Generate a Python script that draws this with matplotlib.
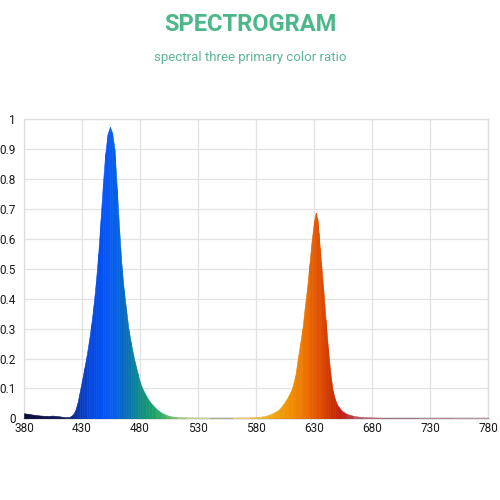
import matplotlib
matplotlib.use("Agg")
import matplotlib.pyplot as plt
import numpy as np
from matplotlib.colors import LinearSegmentedColormap, Normalize

# ---- data ----
wavelength = [380, 385, 390, 395, 400, 405, 410, 415, 419, 422, 424, 426, 428, 430,
              432, 434, 436, 438, 440, 442, 444, 446, 448, 450, 452, 454, 456, 458,
              460, 462, 464, 466, 468, 470, 472, 474, 476, 478, 480, 482, 485, 488,
              490, 494, 498, 502, 506, 512, 520, 540, 560, 575, 585, 590, 595, 600,
              604, 608, 611, 614, 616, 618, 620, 622, 624, 626, 628, 630, 631.5, 633,
              634, 635, 636, 638, 640, 642, 644, 646, 648, 650, 654, 658, 664, 672,
              690, 720, 750, 780]
intensity = [0.017, 0.014, 0.011, 0.009, 0.008, 0.009, 0.007, 0.004, 0.004, 0.012,
             0.025, 0.05, 0.088, 0.128, 0.168, 0.21, 0.26, 0.315, 0.38, 0.46, 0.55,
             0.665, 0.785, 0.885, 0.95, 0.975, 0.955, 0.90, 0.77, 0.635, 0.515, 0.43,
             0.365, 0.30, 0.255, 0.215, 0.18, 0.15, 0.12, 0.10, 0.077, 0.058, 0.048,
             0.032, 0.02, 0.012, 0.007, 0.004, 0.003, 0.002, 0.002, 0.003, 0.006,
             0.01, 0.018, 0.03, 0.05, 0.075, 0.10, 0.145, 0.20, 0.25, 0.30, 0.37,
             0.435, 0.515, 0.595, 0.66, 0.688, 0.665, 0.62, 0.57, 0.525, 0.43, 0.33,
             0.235, 0.155, 0.095, 0.065, 0.045, 0.025, 0.015, 0.008, 0.004, 0.0015,
             0.0015, 0.002, 0.0015]
x_ticks = [380, 430, 480, 530, 580, 630, 680, 730, 780]
y_ticks = [0, 0.1, 0.2, 0.3, 0.4, 0.5, 0.6, 0.7, 0.8, 0.9, 1]
y_tick_labels = ["0", "0.1", "0.2", "0.3", "0.4", "0.5", "0.6", "0.7", "0.8", "0.9", "1"]
title = "SPECTROGRAM"
subtitle = "spectral three primary color ratio"

# ---- style: spectral colour stops ----
stop_nm = [380, 415, 422, 428, 435, 445, 452, 458, 464, 470, 476, 482, 488, 495,
           505, 520, 560, 585, 600, 612, 620, 628, 634, 640, 646, 655, 670, 780]
stop_col = ["#0a0a3a", "#101a60", "#0a2a90", "#0a3ab8", "#0846d8", "#0050f0",
            "#0a58f8", "#0560e8", "#0868c8", "#0a74b0", "#0c8498", "#129080",
            "#1a9c70", "#28a868", "#60b868", "#b8d888", "#e8dca0", "#f0b830",
            "#f0a010", "#f08a00", "#f07800", "#e86200", "#e05000", "#d84000",
            "#c83000", "#c02018", "#b86070", "#b89aa8"]
lo, hi = 380, 780
cmap = LinearSegmentedColormap.from_list(
    "spec", [((n - lo) / (hi - lo), c) for n, c in zip(stop_nm, stop_col)])
norm = Normalize(lo, hi)

plt.rcParams['font.family'] = ['Roboto', 'DejaVu Sans']

fig = plt.figure(figsize=(5, 5), dpi=100)
fig.patch.set_facecolor("white")
ax = fig.add_axes([0.048, 0.1634, 0.928, 0.598])

for i in range(len(wavelength) - 1):
    xs = wavelength[i:i + 2]
    ys = intensity[i:i + 2]
    c = cmap(norm(0.5 * (xs[0] + xs[1])))
    ax.fill_between(xs, 0, ys, facecolor=c, edgecolor=c, linewidth=0.4, zorder=3)

ax.set_xlim(380, 780)
ax.set_ylim(0, 1)
ax.set_xticks(x_ticks)
ax.set_xticklabels([str(v) for v in x_ticks])
ax.set_yticks(y_ticks)
ax.set_yticklabels(y_tick_labels)
ax.tick_params(axis='both', length=0, labelsize=8.5, colors="#1a1a1a")
ax.tick_params(axis='x', pad=3)
ax.tick_params(axis='y', pad=6)
ax.grid(True, color="#e2e2e2", linewidth=0.9, zorder=0)
ax.set_axisbelow(True)
for side in ["top", "right", "left"]:
    ax.spines[side].set_color("#dddddd")
    ax.spines[side].set_linewidth(0.9)
ax.spines["bottom"].set_color("#777777")
ax.spines["bottom"].set_linewidth(1.0)

fig.text(0.5, 0.951, title, ha="center", va="center", fontsize=17,
         fontweight="bold", color="#4cb88a")
fig.text(0.5, 0.885, subtitle, ha="center", va="center", fontsize=9.5,
         color="#5db793")

fig.savefig("out.png", dpi=100, facecolor="white")
